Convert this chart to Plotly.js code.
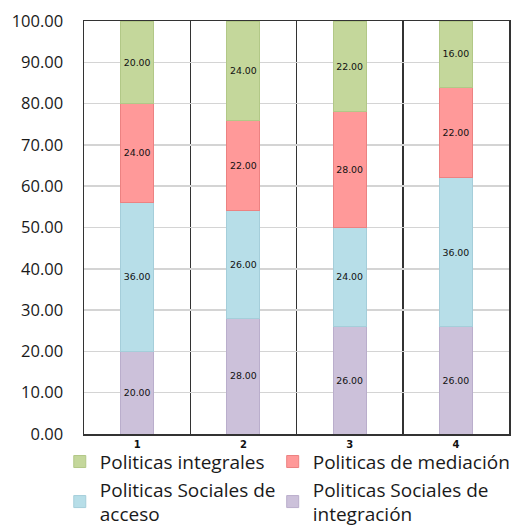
<!DOCTYPE html>
<html><head><meta charset="utf-8">
<script src="https://cdn.plot.ly/plotly-3.0.1.min.js"></script>
<style>html,body{margin:0;padding:0;background:#fff}#chart{width:513px;height:527px}</style>
</head><body><div id="chart"></div>
<script>
const categories = [1, 2, 3, 4];
const tickLabels = ['1', '2', '3', '4'];
const integracion = [20, 28, 26, 26];
const acceso = [36, 26, 24, 36];
const mediacion = [24, 22, 28, 22];
const integrales = [20, 24, 22, 16];

const names = {
  integracion: 'Politicas Sociales de<br>integración',
  acceso: 'Politicas Sociales de<br>acceso',
  mediacion: 'Politicas de mediación',
  integrales: 'Politicas integrales'
};

function mk(y, name, fill, line, rank, legendId) {
  return {
    type: 'bar', x: categories, y: y, name: name, width: 0.31,
    marker: {color: fill, line: {color: line, width: 1}},
    texttemplate: '%{y:.2f}', textposition: 'inside', insidetextanchor: 'middle',
    textangle: 0,
    textfont: {family: 'DejaVu Sans', size: 10, color: '#111'},
    legend: legendId, legendrank: rank, hoverinfo: 'skip'
  };
}

const data = [
  mk(integracion, names.integracion, 'rgb(204,193,218)', 'rgb(186,174,204)', 2, 'legend2'),
  mk(acceso, names.acceso, 'rgb(183,222,232)', 'rgb(165,206,218)', 2, 'legend'),
  mk(mediacion, names.mediacion, 'rgb(255,153,153)', 'rgb(236,130,130)', 1, 'legend2'),
  mk(integrales, names.integrales, 'rgb(196,215,155)', 'rgb(178,200,135)', 1, 'legend')
];

const legendBase = {
  orientation: 'v', xanchor: 'left', y: -0.021, yanchor: 'top',
  traceorder: 'normal',
  font: {family: 'Open Sans', size: 19, color: '#1a1a1a'},
  bgcolor: 'rgba(0,0,0,0)'
};

const layout = {
  width: 513, height: 527,
  margin: {l: 84, r: 4, t: 21, b: 93, autoexpand: false},
  barmode: 'stack',
  paper_bgcolor: '#fff', plot_bgcolor: '#fff',
  font: {family: 'Open Sans', color: '#1a1a1a'},
  xaxis: {
    type: 'linear', range: [0.5, 4.5],
    tickvals: categories, ticktext: tickLabels,
    tickfont: {family: 'DejaVu Sans', size: 10, weight: 'bold', color: '#111'},
    showgrid: false, zeroline: false,
    showline: true, linecolor: '#333', linewidth: 1.5, mirror: true,
    ticks: '', ticklen: 0,
    minor: {tick0: 0.5, dtick: 1, showgrid: true, gridcolor: '#333', gridwidth: 1.5, ticks: ''}
  },
  yaxis: {
    range: [0, 100], dtick: 10, tickformat: '.2f',
    tickfont: {family: 'Open Sans', size: 16.5, color: '#1a1a1a'},
    showgrid: true, gridcolor: '#d4d4d4', gridwidth: 1.5,
    zeroline: false, showline: true, linecolor: '#333', linewidth: 1.5, mirror: true,
    ticks: '', ticklabelstandoff: 16
  },
  showlegend: true,
  legend: Object.assign({}, legendBase, {x: -0.057}),
  legend2: Object.assign({}, legendBase, {x: 0.444})
};

Plotly.newPlot('chart', data, layout, {displayModeBar: false, staticPlot: true});
</script>
</body></html>
